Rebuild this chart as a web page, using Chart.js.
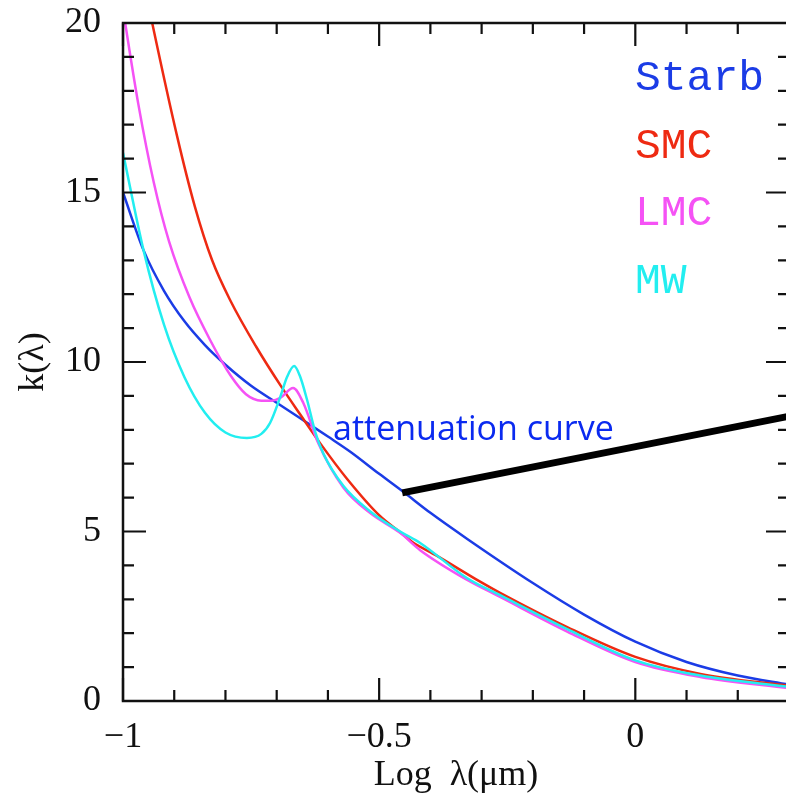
<!DOCTYPE html>
<html>
<head>
<meta charset="utf-8">
<script src="https://cdn.jsdelivr.net/npm/chart.js@4.4.0/dist/chart.umd.min.js"></script>
<style>
  html, body { margin: 0; padding: 0; background: #ffffff; overflow: hidden; }
  #wrap { width: 800px; height: 802px; }
</style>
</head>
<body>
<div id="wrap"><canvas id="chart" width="800" height="802"></canvas></div>
<script>
// curve values (x = log lambda in micron, y = k(lambda))
var starbX = [-1, -0.96, -0.92, -0.88, -0.84, -0.8, -0.75, -0.7, -0.654, -0.6, -0.557, -0.5, -0.453, -0.4, -0.328, -0.2, -0.1, 0, 0.1, 0.2, 0.3];
var starbY = [15, 13.3, 12.1, 11.2, 10.5, 9.92, 9.3, 8.8, 8.34, 7.8, 7.36, 6.7, 6.17, 5.55, 4.78, 3.48, 2.55, 1.75, 1.15, 0.75, 0.48];

var smcX = [-0.96, -0.943, -0.895, -0.86, -0.826, -0.79, -0.74, -0.69, -0.654, -0.615, -0.5625, -0.498, -0.459, -0.436, -0.387, -0.303, -0.264, -0.133, 0, 0.127, 0.3];
var smcY = [21.25, 20, 16.7, 14.6, 13.0, 11.8, 10.45, 9.25, 8.45, 7.6, 6.55, 5.45, 4.98, 4.7, 4.28, 3.52, 3.19, 2.18, 1.3, 0.8, 0.45];

var lmcX = [-1, -0.97, -0.94, -0.91, -0.87, -0.83, -0.79, -0.76, -0.73, -0.71, -0.693, -0.668, -0.648, -0.619, -0.57, -0.518, -0.459, -0.42, -0.328, -0.264, -0.133, 0, 0.127, 0.3];
var lmcY = [20.4, 17.6, 15.3, 13.55, 11.9, 10.65, 9.6, 9.05, 8.86, 8.86, 8.94, 9.23, 8.79, 7.61, 6.3, 5.55, 4.96, 4.45, 3.57, 3.07, 2.05, 1.15, 0.71, 0.38];

var mwX = [-1, -0.96, -0.92, -0.88, -0.84, -0.8, -0.758, -0.73, -0.713, -0.693, -0.68, -0.666, -0.655, -0.641, -0.625, -0.609, -0.57, -0.518, -0.459, -0.42, -0.328, -0.264, -0.133, 0, 0.127, 0.3];
var mwY = [16.17, 13.3, 11.1, 9.55, 8.5, 7.92, 7.76, 7.88, 8.2, 8.97, 9.55, 9.88, 9.6, 8.9, 7.95, 7.3, 6.35, 5.6, 5.0, 4.66, 3.62, 3.12, 2.12, 1.2, 0.75, 0.42];

// pointer line for the "attenuation curve" note
var noteX = [-0.455, 0.32];
var noteY = [6.14, 8.46];
var noteText = 'attenuation curve';
var noteAt = { x: -0.59, y: 7.7 };

var xTickVals = [-1, -0.5, 0];
var yTickVals = [0, 5, 10, 15, 20];

var seriesNames = ['Starb', 'SMC', 'LMC', 'MW'];
var seriesColors = ['#1b3ce6', '#ee2a12', '#f552f5', '#22eef0'];

function toPoints(xs, ys) {
  return xs.map(function (x, i) { return { x: x, y: ys[i] }; });
}

function curve(label, xs, ys, color) {
  return {
    label: label,
    data: toPoints(xs, ys),
    showLine: true,
    borderColor: color,
    backgroundColor: color,
    borderWidth: 2.5,
    pointRadius: 0,
    cubicInterpolationMode: 'monotone'
  };
}

// frame with inward ticks, legend words and the note text
var framePlugin = {
  id: 'frame',
  afterDatasetsDraw: function (chart) {
    var ctx = chart.ctx;
    var a = chart.chartArea;
    var xs = chart.scales.x;
    var ys = chart.scales.y;
    ctx.save();
    ctx.strokeStyle = '#111111';
    ctx.lineWidth = 2.5;
    ctx.strokeRect(a.left, a.top, a.right - a.left, a.bottom - a.top);

    ctx.lineWidth = 2.2;
    ctx.beginPath();
    for (var i = -10; i <= 3; i++) {
      var px = xs.getPixelForValue(i / 10);
      var len = (i % 5 === 0) ? 23 : 11;
      ctx.moveTo(px, a.bottom); ctx.lineTo(px, a.bottom - len);
      ctx.moveTo(px, a.top); ctx.lineTo(px, a.top + len);
    }
    for (var j = 0; j <= 20; j++) {
      var py = ys.getPixelForValue(j);
      var l2 = (j % 5 === 0) ? 23 : 11;
      ctx.moveTo(a.left, py); ctx.lineTo(a.left + l2, py);
      ctx.moveTo(a.right, py); ctx.lineTo(a.right - l2, py);
    }
    ctx.stroke();

    // legend words
    ctx.font = '43px "Liberation Mono", monospace';
    ctx.textBaseline = 'middle';
    ctx.textAlign = 'left';
    for (var k = 0; k < seriesNames.length; k++) {
      ctx.fillStyle = seriesColors[k];
      ctx.fillText(seriesNames[k], a.right - 154, a.top + 56 + k * 67.5);
    }

    // note text
    ctx.font = '34px "Open Sans", sans-serif';
    ctx.textBaseline = 'alphabetic';
    ctx.fillStyle = '#0a2af0';
    ctx.fillText(noteText, xs.getPixelForValue(noteAt.x), ys.getPixelForValue(noteAt.y));
    ctx.restore();
  }
};

function noEdgePadding(scale) {
  scale.paddingTop = 0;
  scale.paddingBottom = 0;
  scale.paddingLeft = 0;
  scale.paddingRight = 0;
}

var ctx = document.getElementById('chart').getContext('2d');
var chart = new Chart(ctx, {
  type: 'scatter',
  data: {
    datasets: [
      {
        label: 'note',
        data: toPoints(noteX, noteY),
        showLine: true,
        borderColor: '#000000',
        borderWidth: 7,
        pointRadius: 0
      },
      curve('MW', mwX, mwY, seriesColors[3]),
      curve('LMC', lmcX, lmcY, seriesColors[2]),
      curve('SMC', smcX, smcY, seriesColors[1]),
      curve('Starb', starbX, starbY, seriesColors[0])
    ]
  },
  options: {
    responsive: false,
    animation: false,
    devicePixelRatio: 1,
    layout: { padding: { top: 23, right: 11, left: 0, bottom: 0 } },
    plugins: {
      legend: { display: false },
      tooltip: { enabled: false }
    },
    scales: {
      x: {
        type: 'linear',
        min: -1,
        max: 0.3,
        grid: { display: false, drawTicks: false },
        border: { display: false },
        afterBuildTicks: function (scale) {
          scale.ticks = xTickVals.map(function (v) { return { value: v }; });
        },
        afterFit: function (scale) { scale.height = 101; noEdgePadding(scale); },
        ticks: {
          padding: 15,
          color: '#111111',
          font: { family: '"Liberation Serif", serif', size: 36 },
          callback: function (v) { return v < 0 ? '\u2212' + Math.abs(v) : String(v); }
        },
        title: {
          display: true,
          text: 'Log\u2002\u03bb(\u03bcm)',
          color: '#111111',
          font: { family: '"Liberation Serif", serif', size: 36 },
          padding: { top: 0, bottom: 5 }
        }
      },
      y: {
        type: 'linear',
        min: 0,
        max: 20,
        grid: { display: false, drawTicks: false },
        border: { display: false },
        afterBuildTicks: function (scale) {
          scale.ticks = yTickVals.map(function (v) { return { value: v }; });
        },
        afterFit: function (scale) { scale.width = 123; noEdgePadding(scale); },
        ticks: {
          padding: 22,
          color: '#111111',
          font: { family: '"Liberation Serif", serif', size: 36 }
        },
        title: {
          display: true,
          text: 'k(\u03bb)',
          color: '#111111',
          font: { family: '"Liberation Serif", serif', size: 36 },
          padding: { top: 12, bottom: 0 }
        }
      }
    }
  },
  plugins: [framePlugin]
});
</script>
</body>
</html>
